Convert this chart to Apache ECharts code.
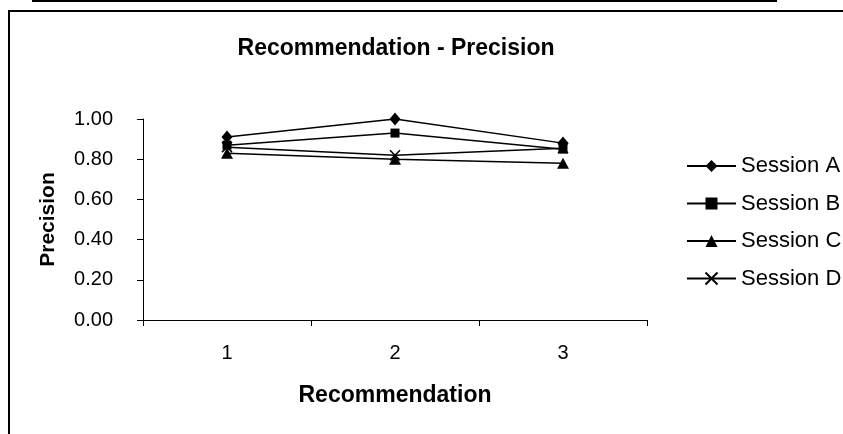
<!DOCTYPE html>
<html>
<head>
<meta charset="utf-8">
<script src="https://cdn.jsdelivr.net/npm/echarts@6/dist/echarts.min.js"></script>
<style>html,body{margin:0;padding:0;background:#fff;}#c{width:843px;height:434px;}</style>
</head>
<body>
<div id="c"></div>
<script>
const categories = ['1', '2', '3'];
const yTicks = [0, 0.2, 0.4, 0.6, 0.8, 1.0];
const seriesNames = ['Session A', 'Session B', 'Session C', 'Session D'];
const sessionA = [0.91, 1.00, 0.88];
const sessionB = [0.87, 0.93, 0.85];
const sessionC = [0.83, 0.80, 0.78];
const sessionD = [0.86, 0.82, 0.855];

const FONT = "'Liberation Sans', Arial, sans-serif";
const symbols = ['diamond', 'rect', 'triangle', 'path://M0,0L10,10M10,0L0,10'];
const sizes = [[11, 13], 9, [12, 11], 10];
const data = [sessionA, sessionB, sessionC, sessionD];

const chart = echarts.init(document.getElementById('c'), null, {renderer: 'canvas'});
chart.setOption({
  animation: false,
  backgroundColor: '#fff',
  title: {
    text: 'Recommendation - Precision',
    left: 391, top: 32, textAlign: 'center',
    textStyle: {fontFamily: FONT, fontSize: 23, fontWeight: 'bold', color: '#000'}
  },
  graphic: [
    {type: 'rect', shape: {x: 32, y: 0, width: 745, height: 2}, style: {fill: '#000'}, silent: true},
    {type: 'rect', shape: {x: 9, y: 11, width: 900, height: 500}, style: {fill: 'none', stroke: '#000', lineWidth: 2}, silent: true}
  ],
  legend: {
    orient: 'vertical', left: 681, top: 150,
    itemWidth: 49, itemHeight: 15, itemGap: 15.5,
    textStyle: {fontFamily: FONT, fontSize: 22, color: '#000', lineHeight: 22},
    data: seriesNames
  },
  grid: {left: 143, right: 196, top: 119, bottom: 114, containLabel: false},
  xAxis: {
    type: 'category', data: categories, boundaryGap: true,
    name: 'Recommendation', nameLocation: 'middle', nameGap: 64,
    nameTextStyle: {fontFamily: FONT, fontSize: 23, fontWeight: 'bold', color: '#000'},
    axisLine: {lineStyle: {color: '#000', width: 1}},
    axisTick: {show: true, length: 6, lineStyle: {color: '#000'}},
    axisLabel: {fontFamily: FONT, fontSize: 20, color: '#000', margin: 23},
    splitLine: {show: false}
  },
  yAxis: {
    type: 'value', min: 0, max: 1, interval: 0.2,
    name: 'Precision', nameLocation: 'middle', nameGap: 84,
    nameTextStyle: {fontFamily: FONT, fontSize: 21, fontWeight: 'bold', color: '#000'},
    axisLine: {show: true, lineStyle: {color: '#000', width: 1}},
    axisTick: {show: true, length: 6, lineStyle: {color: '#000'}},
    axisLabel: {fontFamily: FONT, fontSize: 20, color: '#000', margin: 30,
      formatter: v => v.toFixed(2)},
    splitLine: {show: false}
  },
  series: seriesNames.map((n, i) => ({
    name: n, type: 'line', data: data[i],
    symbol: symbols[i], symbolSize: sizes[i],
    lineStyle: {color: '#000', width: 1.5},
    itemStyle: {color: '#000', borderColor: '#000', borderWidth: i === 3 ? 1.5 : 0},
    z: 2 + i
  }))
});
</script>
</body>
</html>
